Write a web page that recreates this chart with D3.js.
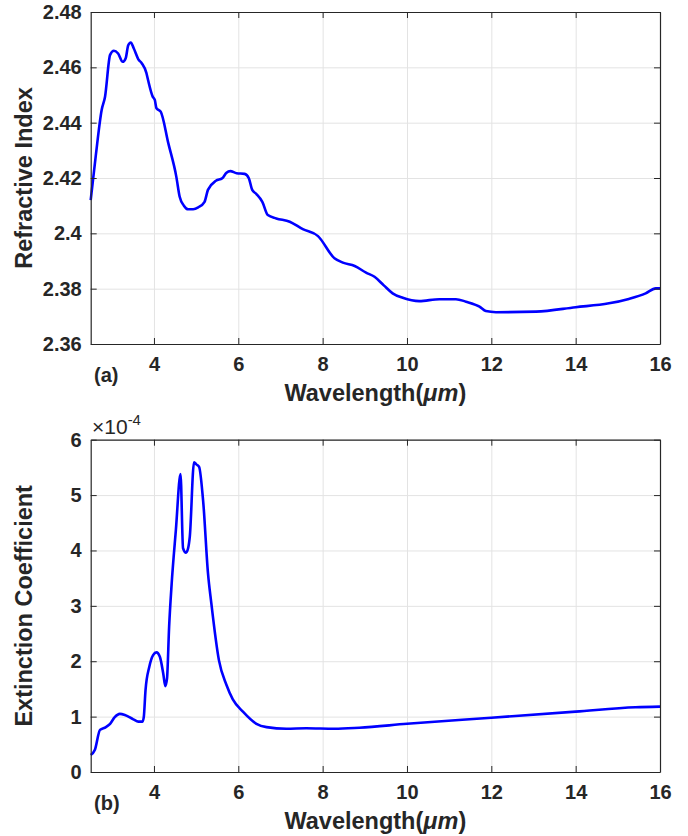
<!DOCTYPE html>
<html lang="en">
<head>
    <meta charset="UTF-8">
    <title>Refractive Index and Extinction Coefficient</title>
    <script src="https://cdn.jsdelivr.net/npm/d3@7"></script>
    <style>
        body { margin: 0; background: #fff; }
        text { font-family: "Liberation Sans", Arial, sans-serif; fill: #262626; }
    </style>
</head>
<body>
<svg id="chart" width="688" height="836" viewBox="0 0 688 836"></svg>
<script>
    // data
    let xTicks = [4, 6, 8, 10, 12, 14, 16];
    let nTicks = [2.36, 2.38, 2.40, 2.42, 2.44, 2.46, 2.48];
    let nTickLabels = ['2.36', '2.38', '2.4', '2.42', '2.44', '2.46', '2.48'];
    let kTicks = [0, 1, 2, 3, 4, 5, 6];   // in units of 1e-4

    let wlN = [2.5, 2.62, 2.76, 2.84, 2.96, 3.05, 3.15, 3.26, 3.33, 3.39, 3.45, 3.52, 3.63, 3.71, 3.82, 3.86,
        3.97, 4.02, 4.06, 4.16, 4.34, 4.53, 4.61, 4.71, 4.81, 4.93, 5.05, 5.2, 5.28, 5.47, 5.62, 5.72, 5.81,
        5.96, 6.15, 6.25, 6.33, 6.43, 6.57, 6.70, 6.90, 7.22, 7.53, 7.89, 8.28, 8.48, 8.76, 9.03, 9.23, 9.45,
        9.66, 9.90, 10.29, 10.77, 11.16, 11.40, 11.72, 11.87, 12.11, 13.06, 14.0, 14.79, 15.26, 15.66, 15.9, 16];
    let nVals = [2.412, 2.428, 2.4446, 2.4494, 2.4645, 2.466, 2.465, 2.462, 2.4633, 2.468, 2.469, 2.4669, 2.4629,
        2.4615, 2.458, 2.4554, 2.4494, 2.4482, 2.4452, 2.444, 2.4326, 2.4205, 2.4132, 2.4100, 2.4087, 2.4087,
        2.4094, 2.4114, 2.4157, 2.419, 2.4199, 2.4219, 2.4225, 2.4217, 2.4215, 2.4199, 2.4157, 2.4142, 2.4114,
        2.4066, 2.4054, 2.4042, 2.4015, 2.399, 2.391, 2.3894, 2.3882, 2.3858, 2.3843, 2.3812,
        2.3783, 2.3767, 2.3755, 2.3762, 2.3762, 2.3753, 2.3735, 2.3719, 2.3715, 2.3717, 2.3733, 2.3747, 2.3763,
        2.3783, 2.3801, 2.3801];

    let wlK = [2.5, 2.6, 2.72, 2.86, 2.96, 3.07, 3.19, 3.31, 3.51, 3.63, 3.73, 3.76, 3.80, 3.89, 3.98, 4.06,
        4.14, 4.22, 4.27, 4.31, 4.36, 4.42, 4.52, 4.63, 4.69, 4.76, 4.81, 4.85, 4.95, 5.01, 5.07, 5.17, 5.28,
        5.36, 5.54, 5.72, 5.87, 6.11, 6.43, 6.67, 7.14, 7.61, 8.28, 8.87, 10, 12, 14, 15.42, 16];
    let kVals = [0.307, 0.40, 0.76, 0.81, 0.87, 0.99, 1.05, 1.03, 0.95, 0.91, 0.91, 1.0, 1.48, 1.90, 2.11, 2.16,
        2.08, 1.78, 1.55, 1.69, 2.63, 3.40, 4.37, 5.38, 4.04, 3.96, 4.04, 4.25, 5.59, 5.55, 5.51, 4.86, 3.60,
        3.05, 2.02, 1.57, 1.31, 1.09, 0.87, 0.81, 0.78, 0.79, 0.78, 0.80, 0.87, 0.98, 1.09, 1.17, 1.18];

    let svg = d3.select('svg#chart');
    let left = 90.7, right = 660;

    let xScale = d3.scaleLinear().domain([2.5, 16]).range([left, right]);

    function drawPanel(opts) {
        let yScale = d3.scaleLinear().domain(opts.yDomain).range([opts.bottom, opts.top]);
        let g = svg.append('g');
        let h = opts.bottom - opts.top, w = right - left;

        // grid
        g.append('g').attr('transform', 'translate(0,' + opts.bottom + ')')
            .call(d3.axisBottom(xScale).tickValues(xTicks).tickSize(-h).tickFormat(''))
            .call(a => a.select('.domain').remove())
            .selectAll('line').attr('stroke', '#e3e3e3');
        g.append('g').attr('transform', 'translate(' + left + ',0)')
            .call(d3.axisLeft(yScale).tickValues(opts.yTicks).tickSize(-w).tickFormat(''))
            .call(a => a.select('.domain').remove())
            .selectAll('line').attr('stroke', '#e3e3e3');

        // line
        let line = d3.line()
            .x(function(d){return xScale(d[0]);})
            .y(function(d){return yScale(d[1]);})
            .curve(d3.curveMonotoneX);
        g.append('path')
            .datum(d3.zip(opts.xs, opts.ys))
            .attr('d', line)
            .attr('fill', 'none')
            .attr('stroke', '#0000ff')
            .attr('stroke-width', 2.6)
            .attr('stroke-linejoin', 'round');

        // axes, ticks pointing inward
        let bottomAxis = g.append('g').attr('transform', 'translate(0,' + opts.bottom + ')')
            .call(d3.axisBottom(xScale).tickValues(xTicks).tickSizeInner(-6).tickSizeOuter(0).tickPadding(13));
        let topAxis = g.append('g').attr('transform', 'translate(0,' + opts.top + ')')
            .call(d3.axisTop(xScale).tickValues(xTicks).tickSizeInner(-6).tickSizeOuter(0).tickFormat(''));
        let leftAxis = g.append('g').attr('transform', 'translate(' + left + ',0)')
            .call(d3.axisLeft(yScale).tickValues(opts.yTicks).tickSizeInner(-6).tickSizeOuter(0)
                .tickPadding(9).tickFormat(function(d, i){return opts.yLabels[i];}));
        let rightAxis = g.append('g').attr('transform', 'translate(' + right + ',0)')
            .call(d3.axisRight(yScale).tickValues(opts.yTicks).tickSizeInner(-6).tickSizeOuter(0).tickFormat(''));

        [bottomAxis, topAxis, leftAxis, rightAxis].forEach(function(a){
            a.select('.domain').attr('stroke', '#262626').attr('stroke-width', 1.2);
            a.selectAll('.tick line').attr('stroke', '#262626');
            a.selectAll('.tick text')
                .style('font-size', '20px')
                .style('font-weight', 'bold')
                .attr('fill', '#262626');
        });
        bottomAxis.selectAll('.tick text').attr('dy', '0.71em');

        // x label
        let xl = g.append('text')
            .attr('x', (left + right) / 2)
            .attr('y', opts.bottom + 57)
            .attr('text-anchor', 'middle')
            .style('font-size', '23.5px')
            .style('font-weight', 'bold');
        xl.append('tspan').text('Wavelength(');
        xl.append('tspan').style('font-style', 'italic').text('\u03bcm');
        xl.append('tspan').text(')');

        // y label
        g.append('text')
            .attr('transform', 'translate(32,' + ((opts.top + opts.bottom) / 2) + ') rotate(-90)')
            .attr('text-anchor', 'middle')
            .style('font-size', '23.5px')
            .style('font-weight', 'bold')
            .text(opts.yTitle);

        // panel letter
        g.append('text')
            .attr('x', 94)
            .attr('y', opts.bottom + 38)
            .style('font-size', '20px')
            .style('font-weight', 'bold')
            .text(opts.letter);

        return {g: g, yScale: yScale};
    }

    drawPanel({
        top: 12, bottom: 344, yDomain: [2.36, 2.48], yTicks: nTicks, yLabels: nTickLabels,
        xs: wlN, ys: nVals, yTitle: 'Refractive Index', letter: '(a)'
    });

    let p2 = drawPanel({
        top: 439.7, bottom: 772, yDomain: [0, 6], yTicks: kTicks, yLabels: kTicks.map(String),
        xs: wlK, ys: kVals, yTitle: 'Extinction Coefficient', letter: '(b)'
    });

    // exponent label above the lower panel
    let ex = p2.g.append('text')
        .attr('x', 92)
        .attr('y', 434)
        .style('font-size', '21px');
    ex.append('tspan').text('\u00d710');
    ex.append('tspan').attr('dy', -9).style('font-size', '15px').text('-4');
</script>
</body>
</html>
